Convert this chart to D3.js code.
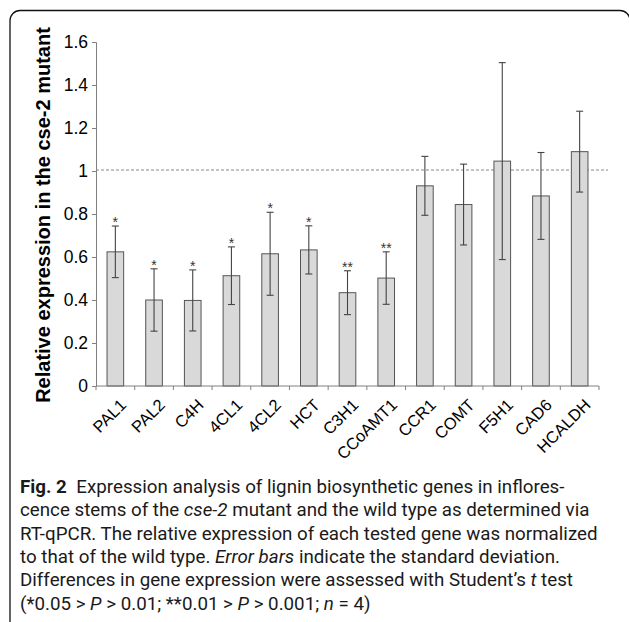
<!DOCTYPE html>
<html>
<head>
<meta charset="utf-8" />
<title>Relative expression in the cse-2 mutant</title>
<script src="https://d3js.org/d3.v7.min.js"></script>
<style>
    body { margin: 0; background: #fff; }
    svg { display: block; background: #fff; }
    .tick-label { font-family: Arial, "Liberation Sans", sans-serif; font-size: 17.5px; fill: #000; }
    .gene-label { font-family: Arial, "Liberation Sans", sans-serif; font-size: 16.5px; fill: #000; }
    .star { font-family: Arial, "Liberation Sans", sans-serif; font-size: 14px; fill: #333; }
    .ylabel { font-family: Arial, "Liberation Sans", sans-serif; font-size: 20px; font-weight: bold; fill: #000; }
    .caption { font-family: Roboto, "Noto Sans", sans-serif; font-size: 18px; fill: #1a1a1a; }
</style>
</head>
<body>
<div id="chart"></div>
<script>
// values
var genes = ["PAL1", "PAL2", "C4H", "4CL1", "4CL2", "HCT", "C3H1", "CCoAMT1",
             "CCR1", "COMT", "F5H1", "CAD6", "HCALDH"];
var means = [0.624, 0.400, 0.398, 0.513, 0.615, 0.633, 0.434, 0.502,
             0.931, 0.844, 1.046, 0.884, 1.090];
var sds = [0.120, 0.145, 0.142, 0.134, 0.193, 0.112, 0.102, 0.122,
           0.137, 0.188, 0.458, 0.202, 0.188];
var signif = ["*", "*", "*", "*", "*", "*", "**", "**", "", "", "", "", ""];
var yTicks = [0, 0.2, 0.4, 0.6, 0.8, 1, 1.2, 1.4, 1.6];
var refLevel = 1;

var captionLines = [
    [{t: "Fig. 2", w: "bold"}, {t: "\u2002Expression analysis of lignin biosynthetic genes in inflores-"}],
    [{t: "cence stems of the "}, {t: "cse-2", s: "italic"}, {t: " mutant and the wild type as determined via"}],
    [{t: "RT-qPCR. The relative expression of each tested gene was normalized"}],
    [{t: "to that of the wild type. "}, {t: "Error bars", s: "italic"}, {t: " indicate the standard deviation."}],
    [{t: "Differences in gene expression were assessed with Student\u2019s "}, {t: "t", s: "italic"}, {t: " test"}],
    [{t: "(*0.05 > "}, {t: "P", s: "italic"}, {t: " > 0.01; **0.01 > "}, {t: "P", s: "italic"}, {t: " > 0.001; "}, {t: "n", s: "italic"}, {t: " = 4)"}]
];

var width = 629, height = 622;
var plotLeft = 96, plotRight = 599, plotTop = 42, plotBottom = 386;

var svg = d3.select("#chart").append("svg")
    .attr("width", width).attr("height", height);

// rounded frame round the figure
svg.append("rect")
    .attr("x", 10).attr("y", 10.5)
    .attr("width", 620).attr("height", 660)
    .attr("rx", 10)
    .attr("fill", "none").attr("stroke", "#111").attr("stroke-width", 1.3);

var x = d3.scaleBand().domain(genes).range([plotLeft, plotRight])
    .paddingInner(0.57).paddingOuter(0.285);
var y = d3.scaleLinear().domain([0, 1.6]).range([plotBottom, plotTop]);

// y axis
var yAxis = svg.append("g").attr("transform", "translate(" + plotLeft + ",0)")
    .call(d3.axisLeft(y).tickValues(yTicks).tickSize(4).tickPadding(4)
        .tickFormat(function (d) { return String(+d.toFixed(1)); }));
yAxis.attr("font-size", null).attr("font-family", null);
yAxis.select(".domain").attr("stroke", "#808080");
yAxis.selectAll(".tick line").attr("stroke", "#808080");
yAxis.selectAll(".tick text").attr("class", "tick-label").attr("fill", null);

// dashed reference line
svg.append("line")
    .attr("x1", plotLeft).attr("x2", 608)
    .attr("y1", y(refLevel) - 1).attr("y2", y(refLevel) - 1)
    .attr("stroke", "#888").attr("stroke-width", 1)
    .attr("stroke-dasharray", "3,2");

// bars
var g = svg.append("g");
g.selectAll("rect.bar").data(genes).enter().append("rect")
    .attr("class", "bar")
    .attr("x", function (d) { return x(d); })
    .attr("y", function (d, i) { return y(means[i]); })
    .attr("width", x.bandwidth())
    .attr("height", function (d, i) { return y(0) - y(means[i]); })
    .attr("fill", "#d9d9d9").attr("stroke", "#555").attr("stroke-width", 1);

// error bars
var cx = function (d) { return x(d) + x.bandwidth() / 2; };
var err = g.selectAll("g.err").data(genes).enter().append("g")
    .attr("stroke", "#444").attr("stroke-width", 1.1);
err.append("line")
    .attr("x1", cx).attr("x2", cx)
    .attr("y1", function (d, i) { return y(means[i] + sds[i]); })
    .attr("y2", function (d, i) { return y(means[i] - sds[i]); });
[1, -1].forEach(function (s) {
    err.append("line")
        .attr("x1", function (d) { return cx(d) - 3.5; })
        .attr("x2", function (d) { return cx(d) + 3.5; })
        .attr("y1", function (d, i) { return y(means[i] + s * sds[i]); })
        .attr("y2", function (d, i) { return y(means[i] + s * sds[i]); });
});

// significance stars
g.selectAll("text.star").data(genes).enter().append("text")
    .attr("class", "star")
    .attr("x", cx)
    .attr("y", function (d, i) { return y(means[i] + sds[i]) + 1; })
    .attr("text-anchor", "middle")
    .text(function (d, i) { return signif[i]; });

// x axis line and ticks between categories
svg.append("line")
    .attr("x1", plotLeft).attr("x2", plotRight)
    .attr("y1", plotBottom).attr("y2", plotBottom)
    .attr("stroke", "#808080");
svg.selectAll("line.xtick").data(d3.range(genes.length + 1)).enter().append("line")
    .attr("x1", function (i) { return plotLeft + i * x.step(); })
    .attr("x2", function (i) { return plotLeft + i * x.step(); })
    .attr("y1", plotBottom).attr("y2", plotBottom + 4)
    .attr("stroke", "#808080");

// gene names, slanted
svg.selectAll("text.gene-label").data(genes).enter().append("text")
    .attr("class", "gene-label")
    .attr("text-anchor", "end")
    .attr("transform", function (d) {
        return "translate(" + (cx(d) + 12) + "," + (plotBottom + 20) + ") rotate(-45)";
    })
    .text(function (d) { return d; });

// y axis title
svg.append("text")
    .attr("class", "ylabel")
    .attr("text-anchor", "middle")
    .attr("transform", "translate(50,215) rotate(-90)")
    .text("Relative expression in the cse-2 mutant");

// caption
var cap = svg.append("g");
var capTexts = captionLines.map(function (parts, li) {
    var t = cap.append("text").attr("class", "caption")
        .attr("x", 20).attr("y", 493 + li * 23.3);
    parts.forEach(function (p) {
        t.append("tspan").text(p.t)
            .attr("font-weight", p.w || null)
            .attr("font-style", p.s || null);
    });
    return t;
});
// the third line runs from x=20 to about x=598 in the figure
var w3 = capTexts[2].node().getComputedTextLength();
var fs = 18 * 578 / w3;
capTexts.forEach(function (t) { t.style("font-size", fs + "px"); });
</script>
</body>
</html>
